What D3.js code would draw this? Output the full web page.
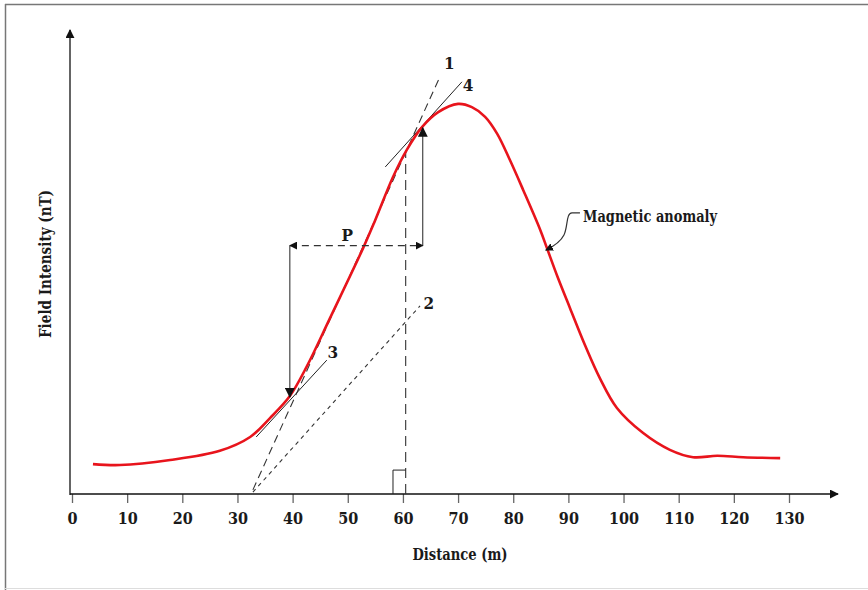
<!DOCTYPE html>
<html>
<head>
<meta charset="utf-8">
<script src="https://cdn.jsdelivr.net/npm/d3@7"></script>
<style>
  html, body { margin: 0; padding: 0; background: #fff; }
  svg { display: block; }
  text { font-family: "DejaVu Serif Condensed", "DejaVu Serif", serif; font-stretch: condensed; font-weight: bold; fill: #1a1a1a; }
</style>
</head>
<body>
<svg id="chart" width="868" height="590"></svg>
<script>
// ---- Data ----
const xTicks = [0, 10, 20, 30, 40, 50, 60, 70, 80, 90, 100, 110, 120, 130];
const distance = [3.8, 8.7, 17.8, 26.8, 32.3, 35.9, 39.5, 42.6, 46.8, 52.8, 54.9, 58.2, 60.7, 63.5, 66.4, 70.0, 72.5, 74.9, 77.1, 79.4, 81.8, 84.9, 86.1, 88.1, 90.3, 93.0, 95.7, 98.8, 103.5, 108.4, 112.6, 117.0, 121.7, 128.4];
const intensity = [6.5, 6.3, 7.4, 9.4, 12.4, 16.5, 21.3, 27.8, 38.3, 53.5, 59.3, 68.9, 74.8, 79.8, 83.0, 84.8, 84.1, 82.0, 78.3, 72.6, 66.1, 57.4, 53.5, 47.0, 40.4, 32.4, 25.2, 18.7, 13.3, 9.6, 8.0, 8.3, 8.0, 7.8];
// construction lines: [x1, y1, x2, y2] in data units
const line1 = [32.8, 0.9, 66.7, 90.7];   // steepest tangent (dashed)
const line2 = [32.8, 0.4, 63.1, 40.9];   // half-slope line (dotted)
const line3 = [33.4, 12.4, 46.2, 29.1];  // tangent at lower point
const line4 = [56.8, 71.1, 70.7, 89.6];  // tangent at upper point
const pY = 54.0, pLeft = 39.5, pRight = 63.6;
const lowerY = 21.1, upperY = 79.6;
const vertX = 60.5, vertTop = 74.6;
const boxX = 58.2, boxY = 5.2;
const labels = [
  {t: "1", x: 68.4, y: 92.4}, {t: "4", x: 71.8, y: 87.6},
  {t: "2", x: 64.7, y: 40.2}, {t: "3", x: 47.3, y: 29.6},
  {t: "P", x: 49.9, y: 54.9}
];
const anomalyText = "Magnetic anomaly";
const anomalyPos = [92.66, 59.1];
const leaderStart = [92.1, 61.1], leaderEnd = [85.9, 53.0];

// ---- Layout ----
const svg = d3.select("#chart");
const x = d3.scaleLinear().domain([0, 130]).range([72, 789]);
const y = d3.scaleLinear().domain([0, 100]).range([494, 34]);

// frame
svg.append("line").attr("x1", 5).attr("x2", 868).attr("y1", 4.5).attr("y2", 4.5).attr("stroke", "#777").attr("stroke-width", 1.5);
svg.append("line").attr("x1", 5.5).attr("x2", 5.5).attr("y1", 4).attr("y2", 590).attr("stroke", "#777").attr("stroke-width", 1.5);
svg.append("line").attr("x1", 5).attr("x2", 868).attr("y1", 588.5).attr("y2", 588.5).attr("stroke", "#ddd").attr("stroke-width", 1);

const defs = svg.append("defs");
function marker(id, size) {
  defs.append("marker").attr("id", id).attr("viewBox", "0 0 10 10")
    .attr("refX", 9).attr("refY", 5).attr("markerWidth", size).attr("markerHeight", size)
    .attr("markerUnits", "userSpaceOnUse").attr("orient", "auto-start-reverse")
    .append("path").attr("d", "M0,0L10,5L0,10Z").attr("fill", "#111");
}
marker("arrAxis", 9);
marker("arrAnn", 10);
marker("arrSmall", 8);

// x axis
const xAxis = d3.axisBottom(x).tickValues(xTicks).tickSize(9).tickPadding(10).tickFormat(d3.format("d"));
const gx = svg.append("g").attr("transform", `translate(0,${y(0)})`).call(xAxis);
gx.select(".domain").remove();
gx.selectAll(".tick line").attr("stroke", "#666").attr("stroke-width", 1.3);
gx.selectAll(".tick text").style("font-size", "16px").attr("fill", "#1a1a1a")
  .style("font-family", '"DejaVu Serif Condensed", "DejaVu Serif", serif');
svg.append("line").attr("x1", x(0) - 2).attr("x2", 838).attr("y1", y(0)).attr("y2", y(0))
  .attr("stroke", "#111").attr("stroke-width", 1.6).attr("marker-end", "url(#arrAxis)");
// y axis
svg.append("line").attr("x1", 70).attr("x2", 70).attr("y1", y(0) + 1).attr("y2", 30)
  .attr("stroke", "#111").attr("stroke-width", 1.3).attr("marker-end", "url(#arrAxis)");

svg.append("text").attr("x", 460).attr("y", 560).attr("text-anchor", "middle").style("font-size", "16px")
  .attr("textLength", 95).attr("lengthAdjust", "spacingAndGlyphs").text("Distance (m)");
svg.append("text").attr("transform", `translate(51,264) rotate(-90)`).attr("text-anchor", "middle").style("font-size", "16px")
  .attr("textLength", 148).attr("lengthAdjust", "spacingAndGlyphs").text("Field Intensity (nT)");

// construction lines
function seg(l, dash, w, col) {
  return svg.append("line").attr("x1", x(l[0])).attr("y1", y(l[1])).attr("x2", x(l[2])).attr("y2", y(l[3]))
    .attr("stroke", col).attr("stroke-width", w).attr("stroke-dasharray", dash);
}
seg(line1, "8,5", 1.1, "#333");
seg(line2, "4,4", 1.1, "#333");
seg(line3, null, 1, "#222");
seg(line4, null, 1, "#222");

// vertical dashed line
svg.append("line").attr("x1", x(vertX)).attr("x2", x(vertX)).attr("y1", y(0)).attr("y2", y(vertTop))
  .attr("stroke", "#333").attr("stroke-width", 1.1).attr("stroke-dasharray", "10,6");
// right-angle box
svg.append("path").attr("d", `M${x(boxX)},${y(0)}V${y(boxY)}H${x(vertX)}`).attr("fill", "none").attr("stroke", "#222").attr("stroke-width", 1);

// red curve
const pts = distance.map((d, i) => [d, intensity[i]]);
svg.append("path").datum(pts)
  .attr("d", d3.line().x(d => x(d[0])).y(d => y(d[1])).curve(d3.curveCatmullRom.alpha(0.5)))
  .attr("fill", "none").attr("stroke", "#e8141c").attr("stroke-width", 2.6).attr("stroke-linejoin", "round");

// P construction
svg.append("line").attr("x1", x(pLeft)).attr("x2", x(pRight)).attr("y1", y(pY)).attr("y2", y(pY))
  .attr("stroke", "#333").attr("stroke-width", 1.2).attr("stroke-dasharray", "7,5")
  .attr("marker-start", "url(#arrSmall)").attr("marker-end", "url(#arrSmall)");
svg.append("line").attr("x1", x(pLeft)).attr("x2", x(pLeft)).attr("y1", y(pY)).attr("y2", y(lowerY))
  .attr("stroke", "#222").attr("stroke-width", 1).attr("marker-end", "url(#arrAnn)");
svg.append("line").attr("x1", x(pRight)).attr("x2", x(pRight)).attr("y1", y(pY)).attr("y2", y(upperY))
  .attr("stroke", "#222").attr("stroke-width", 1).attr("marker-end", "url(#arrAnn)");

labels.forEach(l => {
  svg.append("text").attr("x", x(l.x)).attr("y", y(l.y)).attr("text-anchor", "middle").style("font-size", "17px").text(l.t);
});

// Magnetic anomaly label and leader
svg.append("text").attr("x", x(anomalyPos[0])).attr("y", y(anomalyPos[1])).style("font-size", "16.5px")
  .attr("textLength", 134).attr("lengthAdjust", "spacingAndGlyphs").text(anomalyText);
const sx = x(leaderStart[0]), sy = y(leaderStart[1]), ex = x(leaderEnd[0]), ey = y(leaderEnd[1]);
svg.append("path")
  .attr("d", `M${sx},${sy}H${sx - 8}C${sx - 14},${sy} ${sx - 12},${sy + 14} ${sx - 16},${sy + 22}C${sx - 19},${sy + 28} ${ex + 6},${ey - 3} ${ex},${ey}`)
  .attr("fill", "none").attr("stroke", "#333").attr("stroke-width", 1.2).attr("marker-end", "url(#arrSmall)");
</script>
</body>
</html>
